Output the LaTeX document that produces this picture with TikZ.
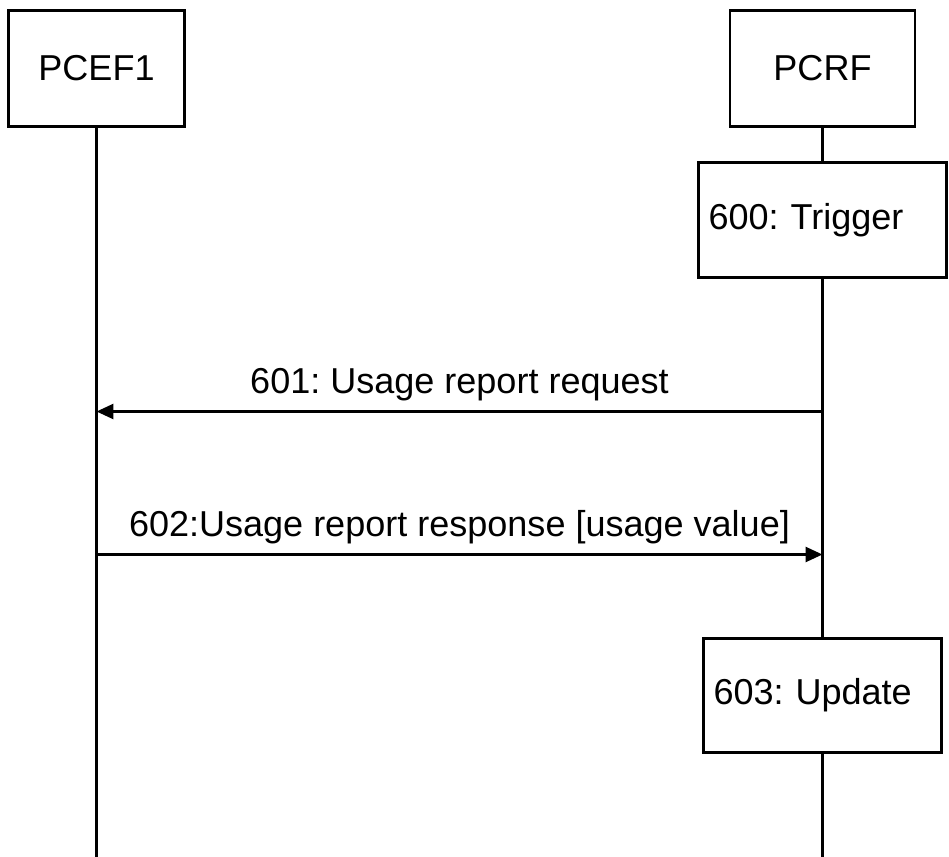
\documentclass[tikz,border=0pt]{standalone}
\usepackage{fontspec}
\setmainfont{Liberation Sans}
\usetikzlibrary{arrows.meta}

\begin{document}
\frenchspacing
\begin{tikzpicture}[line width=1.5pt,
        every node/.style={font=\fontsize{20.5}{24}\selectfont},
        entity/.style={draw, minimum height=2.31cm, inner sep=0pt},
        action/.style={draw, fill=white, minimum height=2.29cm, inner xsep=0.2cm, align=left},
        msg/.style={-{Triangle[length=0.34cm,width=0.3cm]}},
        lbl/.style={above, inner sep=0.18cm}]
        \useasboundingbox (0,0) rectangle (18.98,-17.14);

        \node[entity, minimum width=3.51cm] (pcef) at (1.93,-1.37) {PCEF1};
        \node[entity, minimum width=3.7cm] (pcrf) at (16.45,-1.37) {PCRF};
        \node[action, text width=4.56cm] (trigger) at (16.45,-4.4) {600: Trigger};
        \node[action, text width=4.36cm] (update) at (16.45,-13.91) {603: Update};

        \coordinate (pcefend) at (1.93,-17.14);
        \coordinate (pcrfend) at (16.45,-17.14);
        \coordinate (ef601) at (1.93,-8.23);
        \coordinate (rf601) at (16.45,-8.23);
        \coordinate (ef602) at (1.93,-11.09);
        \coordinate (rf602) at (16.45,-11.09);

        \draw (pcef.south) -- (pcefend);
        \draw (pcrf.south) -- (trigger.north);
        \draw (trigger.south) -- (update.north);
        \draw (update.south) -- (pcrfend);

        \draw[msg] (rf601) -- node[lbl] {601: Usage report request} (ef601);
        \draw[msg] (ef602) -- node[lbl] {602:Usage report response [usage value]} (rf602);
    \end{tikzpicture}
\end{document}
